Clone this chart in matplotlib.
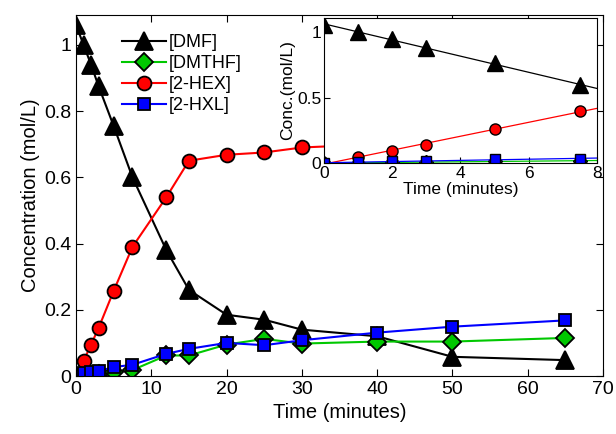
import numpy as np
import matplotlib
matplotlib.use("Agg")
import matplotlib.pyplot as plt
from matplotlib.ticker import FuncFormatter

plt.rcParams['font.family'] = ['Liberation Sans', 'DejaVu Sans']

t = [0, 1, 2, 3, 5, 7.5, 12, 15, 20, 25, 30, 40, 50, 65]
dmf = [1.06, 1.0, 0.94, 0.875, 0.755, 0.60, 0.38, 0.26, 0.185, 0.17, 0.14, 0.12, 0.058, 0.048]
dmthf = [0.0, 0.002, 0.004, 0.006, 0.012, 0.018, 0.062, 0.062, 0.095, 0.112, 0.098, 0.104, 0.104, 0.115]
hex2 = [0.0, 0.045, 0.095, 0.145, 0.257, 0.39, 0.54, 0.65, 0.668, 0.675, 0.69, 0.70, 0.71, 0.72]
hxl2 = [0.0, 0.008, 0.012, 0.015, 0.027, 0.034, 0.067, 0.082, 0.10, 0.093, 0.108, 0.131, 0.149, 0.168]

t_in = [0, 1, 2, 3, 5, 7.5]
dmf_in = [1.06, 1.005, 0.947, 0.878, 0.763, 0.597]
dmthf_in = [0.0, 0.002, 0.004, 0.006, 0.012, 0.018]
hex_in = [0.0, 0.048, 0.094, 0.138, 0.258, 0.398]
hxl_in = [0.0, 0.008, 0.012, 0.015, 0.027, 0.034]

labels = ['[DMF]', '[DMTHF]', '[2-HEX]', '[2-HXL]']
colors = ['black', '#00c800', 'red', 'blue']
markers = ['^', 'D', 'o', 's']
msizes = [13, 9, 10, 9]

fig = plt.figure(figsize=(6.16, 4.34), dpi=100)
ax = fig.add_axes([0.1234, 0.1336, 0.8555, 0.8318])

series = [dmf, dmthf, hex2, hxl2]
for y, lab, c, m, ms in zip(series, labels, colors, markers, msizes):
    ax.plot(t, y, color=c, marker=m, markersize=ms, markerfacecolor=c,
            markeredgecolor='black', markeredgewidth=1.3, linewidth=1.5, label=lab)

ax.set_xlim(0, 70)
ax.set_ylim(0, 1.09)
ax.set_xticks(np.arange(0, 71, 10))
ax.set_yticks([0, 0.2, 0.4, 0.6, 0.8, 1.0])
ax.yaxis.set_major_formatter(FuncFormatter(lambda v, p: '%g' % round(v, 2)))
ax.tick_params(direction='in', top=True, right=True, labelsize=14, length=5)
ax.set_xlabel('Time (minutes)', fontsize=14.5, labelpad=4)
ax.set_ylabel('Concentration (mol/L)', fontsize=14.5, labelpad=3)
leg = ax.legend(loc='upper left', bbox_to_anchor=(0.088, 0.947), frameon=False, fontsize=13,
                handlelength=2.4, labelspacing=0.22, handletextpad=0.15, borderaxespad=0,
                borderpad=0)

axi = fig.add_axes([0.526, 0.6244, 0.443, 0.334])
axi.set_facecolor('white')
ins = [dmf_in, dmthf_in, hex_in, hxl_in]
xs = np.array([0, 8])
for y, c, m, ms in zip(ins, colors, markers, [11, 7, 8, 7.5]):
    k, b = np.polyfit(t_in, y, 1)
    axi.plot(xs, k * xs + b, color=c, linewidth=0.9)
    axi.plot(t_in, y, linestyle='none', marker=m, markersize=ms, markerfacecolor=c,
             markeredgecolor='black', markeredgewidth=1.0)
axi.set_xlim(0, 8)
axi.set_ylim(0, 1.11)
axi.set_xticks([0, 2, 4, 6, 8])
axi.set_yticks([0, 0.5, 1.0])
axi.yaxis.set_major_formatter(FuncFormatter(lambda v, p: '%g' % round(v, 2)))
axi.tick_params(direction='in', labelsize=12.5, length=4, pad=2)
axi.set_xlabel('Time (minutes)', fontsize=12.5, labelpad=1)
axi.set_ylabel('Conc.(mol/L)', fontsize=12.5, labelpad=1)

fig.savefig('out.png', dpi=100)
